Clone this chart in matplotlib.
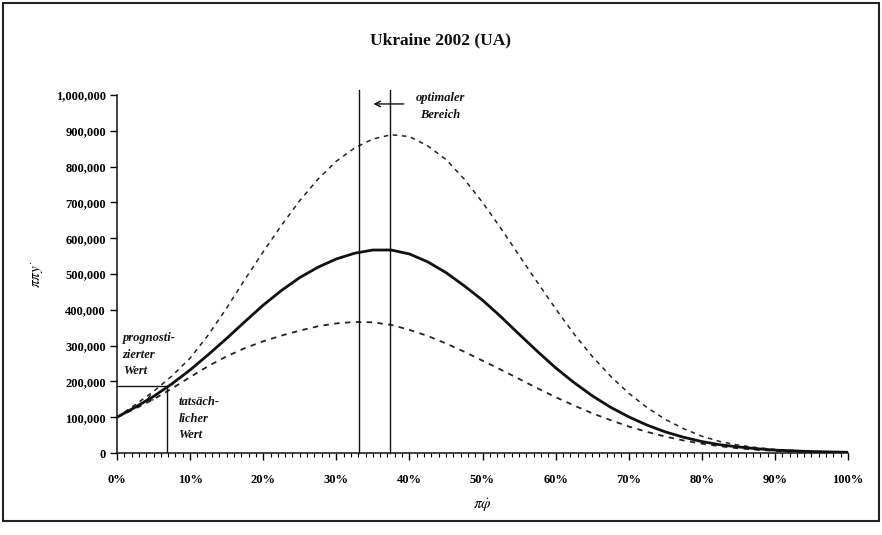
import matplotlib
matplotlib.use('Agg')
import matplotlib.pyplot as plt
from matplotlib.patches import Rectangle
from matplotlib.ticker import MultipleLocator, FuncFormatter

plt.rcParams['font.family'] = ['Liberation Serif', 'DejaVu Serif']
plt.rcParams['mathtext.fontset'] = 'stix'

# share (%) on the x axis
share = [0, 2.5, 5, 7.5, 10, 12.5, 15, 17.5, 20, 22.5, 25, 27.5, 30, 32.5, 35, 37.5,
         40, 42.5, 45, 47.5, 50, 52.5, 55, 57.5, 60, 62.5, 65, 67.5, 70, 72.5, 75,
         77.5, 80, 82.5, 85, 87.5, 90, 92.5, 95, 97.5, 100]

# values in thousands
mid = [100, 128, 158, 193, 232, 275, 320, 367, 413, 454, 490, 519, 542, 558, 567, 567,
       556, 534, 504, 467, 427, 381, 332, 284, 238, 197, 160, 128, 101, 78, 59,
       44, 32, 23, 17, 12, 8, 6, 4, 3, 2]
upper = [100, 135, 172, 215, 265, 330, 405, 485, 562, 636, 705, 765, 815, 852, 877, 889,
         884, 858, 820, 765, 700, 628, 552, 477, 403, 333, 270, 215, 167, 127, 94,
         68, 47, 32, 22, 15, 10, 7, 5, 3, 2]
lower = [100, 124, 150, 180, 212, 243, 270, 293, 312, 328, 342, 354, 362, 366, 365, 358,
         344, 327, 306, 283, 258, 233, 207, 181, 156, 133, 111, 92, 74, 59, 46,
         35, 26, 19, 13, 9, 6, 4, 3, 2, 1]

optimal_range = [33.1, 37.3]   # %
actual_share = 6.8             # %
predicted_value = 188          # thousands

fig = plt.figure(figsize=(8.82, 5.35), dpi=100)
ax = fig.add_axes([117 / 882, 82 / 535, 731 / 882, 358 / 535])

k = 1000
ax.plot(share, [v * k for v in upper], color='#222222', linewidth=1.1, linestyle=(0, (3, 3)))
ax.plot(share, [v * k for v in lower], color='#222222', linewidth=1.3, linestyle=(0, (3, 3)))
ax.plot(share, [v * k for v in mid], color='#111111', linewidth=2.0)

# optimal range
for xv in optimal_range:
    ax.plot([xv, xv], [0, 1015000], color='#111111', linewidth=1.0, clip_on=False)
ax.annotate('', xy=(34.7, 975000), xytext=(39.6, 975000),
            arrowprops=dict(arrowstyle='->', color='#111111', lw=1.0), annotation_clip=False)
ax.text(44.2, 968000, 'optimaler\nBereich', ha='center', va='center', fontsize=9,
        style='italic', fontweight='bold', linespacing=1.5, color='#111111')

# predicted vs. actual value
ax.plot([0, actual_share], [predicted_value * k] * 2, color='#111111', linewidth=1.0)
ax.plot([actual_share, actual_share], [0, predicted_value * k], color='#111111', linewidth=1.0)
ax.annotate('', xy=(3.6, 142000), xytext=(5.9, 168000),
            arrowprops=dict(arrowstyle='->', color='#111111', lw=0.9))
ax.text(0.8, 275000, 'prognosti-\nzierter\nWert', ha='left', va='center', fontsize=9,
        style='italic', fontweight='bold', linespacing=1.5, color='#111111')
ax.text(8.4, 95000, 'tatsäch-\nlicher\nWert', ha='left', va='center', fontsize=9,
        style='italic', fontweight='bold', linespacing=1.5, color='#111111')

ax.set_xlim(0, 100)
ax.set_ylim(0, 1000000)
ax.xaxis.set_major_locator(MultipleLocator(10))
ax.xaxis.set_minor_locator(MultipleLocator(1))
ax.yaxis.set_major_locator(MultipleLocator(100000))
ax.xaxis.set_major_formatter(FuncFormatter(lambda v, p: f'{v:.0f}%'))
ax.yaxis.set_major_formatter(FuncFormatter(lambda v, p: f'{v:,.0f}'))
ax.tick_params(axis='x', which='major', length=5, width=1.0, pad=10, labelsize=9)
ax.tick_params(axis='x', which='minor', length=3, width=0.8)
ax.tick_params(axis='y', length=5, width=1.0, pad=3, labelsize=9)
for lab in ax.get_xticklabels() + ax.get_yticklabels():
    lab.set_fontweight('bold')

for s in ['top', 'right']:
    ax.spines[s].set_visible(False)
for s in ['left', 'bottom']:
    ax.spines[s].set_linewidth(1.1)
    ax.spines[s].set_color('#111111')

ax.set_xlabel(r'$\pi\dot{\varphi}$', fontsize=11, labelpad=8)
ax.set_ylabel(r'$\pi\pi y^{\cdot}$', fontsize=11, labelpad=7)

fig.text(0.5, 1 - 40 / 535, 'Ukraine 2002 (UA)', ha='center', va='center',
         fontsize=12.5, fontweight='bold', color='#111111')

fig.patches.append(Rectangle((3 / 882, 14 / 535), 876 / 882, 518 / 535, transform=fig.transFigure,
                             fill=False, edgecolor='#222222', linewidth=1.5))

fig.savefig('out.png', dpi=100)
